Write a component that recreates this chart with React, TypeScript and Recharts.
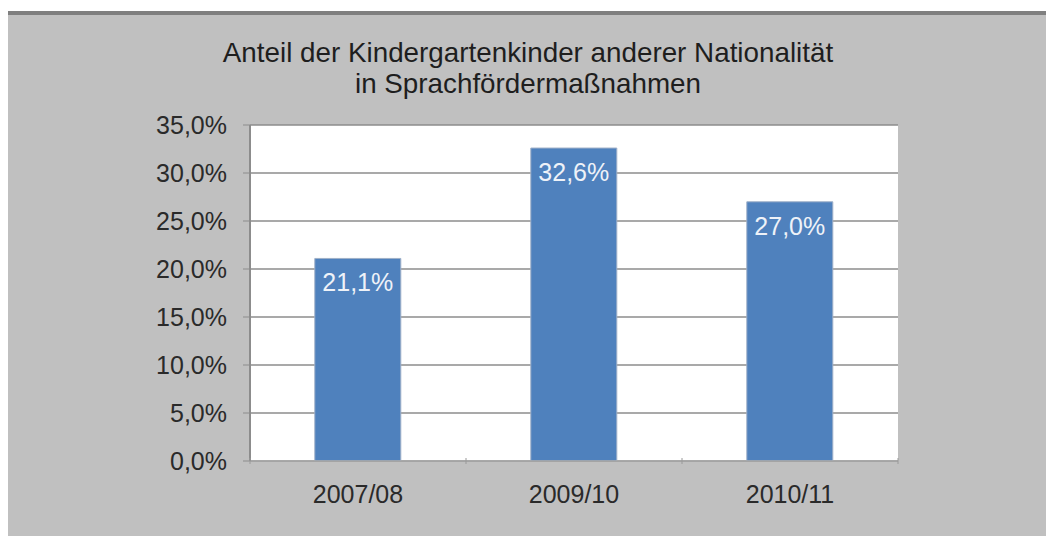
import React from 'react';
import { BarChart, Bar, XAxis, YAxis, CartesianGrid, LabelList } from 'recharts';

const categories = ['2007/08', '2009/10', '2010/11'];
const shares = [21.1, 32.6, 27.0];
const yTicks = [0, 5, 10, 15, 20, 25, 30, 35];
const titleLines = ['Anteil der Kindergartenkinder anderer Nationalität', 'in Sprachfördermaßnahmen'];

const data = categories.map((c, i) => ({ name: c, value: shares[i] }));
const fmt = (v: number) => v.toFixed(1).replace('.', ',') + '%';

const FONT = '"Liberation Sans", Arial, Helvetica, sans-serif';

const XTick = (props: any) => {
  const { x, y, payload, index, width } = props;
  const band = width / categories.length;
  const left = x - band / 2;
  return (
    <g>
      <line x1={left} y1={y - 11} x2={left} y2={y - 5} stroke="#9a9a9a" strokeWidth={1} />
      {index === categories.length - 1 && (
        <line x1={x + band / 2} y1={y - 11} x2={x + band / 2} y2={y - 5} stroke="#9a9a9a" strokeWidth={1} />
      )}
      <text x={x} y={y + 34} textAnchor="middle" fill="#2a2a2a" fontSize={25} fontFamily={FONT}>
        {payload.value}
      </text>
    </g>
  );
};

export default function App() {
  return (
    <div style={{ paddingTop: 3, background: '#fff' }}>
      <div
        style={{
          position: 'relative',
          width: 1046,
          height: 521,
          background: '#c0c0c0',
          borderTop: '4px solid #7f7f7f',
          fontFamily: FONT,
        }}
      >
        <div
          style={{
            position: 'absolute',
            left: 0,
            top: 22,
            width: 1040,
            textAlign: 'center',
            fontSize: 27.8,
            lineHeight: '31px',
            color: '#1e1e1e',
          }}
        >
          {titleLines.map((l) => (
            <div key={l}>{l}</div>
          ))}
        </div>
        <BarChart
          width={1046}
          height={521}
          data={data}
          margin={{ top: 110, right: 156, bottom: 45, left: 0 }}
          barCategoryGap="30%"
        >
          <CartesianGrid
            vertical={false}
            stroke="#8c8c8c"
            strokeWidth={1.5}
            fill="#ffffff"
            fillOpacity={1}
          />
          <XAxis
            dataKey="name"
            height={30}
            axisLine={{ stroke: '#a8a8a8', strokeWidth: 1.5 }}
            tickLine={false}
            tick={<XTick />}
            interval={0}
          />
          <YAxis
            width={242}
            domain={[0, 35]}
            ticks={yTicks}
            tickFormatter={fmt}
            axisLine={{ stroke: '#8c8c8c', strokeWidth: 2 }}
            tickLine={{ stroke: '#8c8c8c' }}
            tickSize={7}
            tickMargin={16}
            tick={{ fill: '#2a2a2a', fontSize: 25, fontFamily: FONT }}
            allowDataOverflow
          />
          <Bar dataKey="value" fill="#4f81bd" stroke="#9fb0c8" strokeWidth={1} isAnimationActive={false}>
            <LabelList
              dataKey="value"
              position="insideTop"
              offset={15}
              formatter={(v: any) => fmt(Number(v))}
              fill="#eef2f8"
              fontSize={25}
              fontFamily={FONT}
            />
          </Bar>
        </BarChart>
      </div>
    </div>
  );
}
